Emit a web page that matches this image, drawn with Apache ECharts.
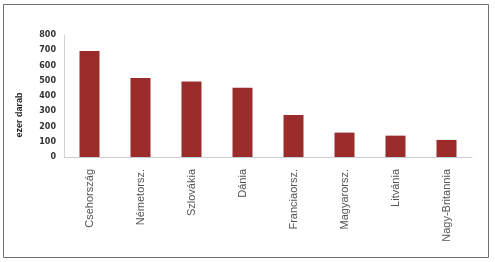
<!DOCTYPE html>
<html><head><meta charset="utf-8">
<script src="https://cdn.jsdelivr.net/npm/echarts@6/dist/echarts.min.js"></script>
<style>html,body{margin:0;padding:0;background:#fff}#c{width:495px;height:262px}</style>
</head><body><div id="c"></div>
<script>
const categories = ["Csehország","Németorsz.","Szlovákia","Dánia","Franciaorsz.","Magyarorsz.","Litvánia","Nagy-Britannia"];
const values = [695, 518, 495, 454, 276, 160, 140, 112];
const yTicks = [0, 100, 200, 300, 400, 500, 600, 700, 800];
const yAxisName = "ezer darab";

const chart = echarts.init(document.getElementById('c'));
chart.setOption({
  animation: false,
  backgroundColor: '#fff',
  grid: { left: 64, top: 35, right: 23, bottom: 105 },
  graphic: [
    { type: 'rect', shape: { x: 3.5, y: 4.5, width: 485, height: 253 }, style: { fill: 'none', stroke: '#6e6e6e', lineWidth: 1 } },
    { type: 'text', x: 20, y: 115, rotation: Math.PI / 2, style: { text: yAxisName, font: 'bold 9px "Liberation Sans", Arial, sans-serif', fill: '#222', align: 'center', verticalAlign: 'middle' } }
  ],
  xAxis: {
    type: 'category', data: categories,
    axisLine: { lineStyle: { color: '#c8ccd4', width: 1 } },
    axisTick: { show: false },
    axisLabel: { rotate: 90, margin: 12, color: '#555', fontSize: 11, fontFamily: '"Liberation Sans", Arial, sans-serif', interval: 0 }
  },
  yAxis: {
    type: 'value', min: yTicks[0], max: yTicks[yTicks.length - 1], interval: 100,
    axisLine: { show: true, lineStyle: { color: '#d4d4d4' } },
    axisTick: { show: false },
    splitLine: { show: false },
    axisLabel: { color: '#333', fontSize: 8, fontWeight: 'bold', fontFamily: '"DejaVu Sans", sans-serif', margin: 8 }
  },
  series: [{
    type: 'bar', data: values, barWidth: 20,
    itemStyle: { color: '#9b2c2c' }
  }]
});
</script></body></html>
